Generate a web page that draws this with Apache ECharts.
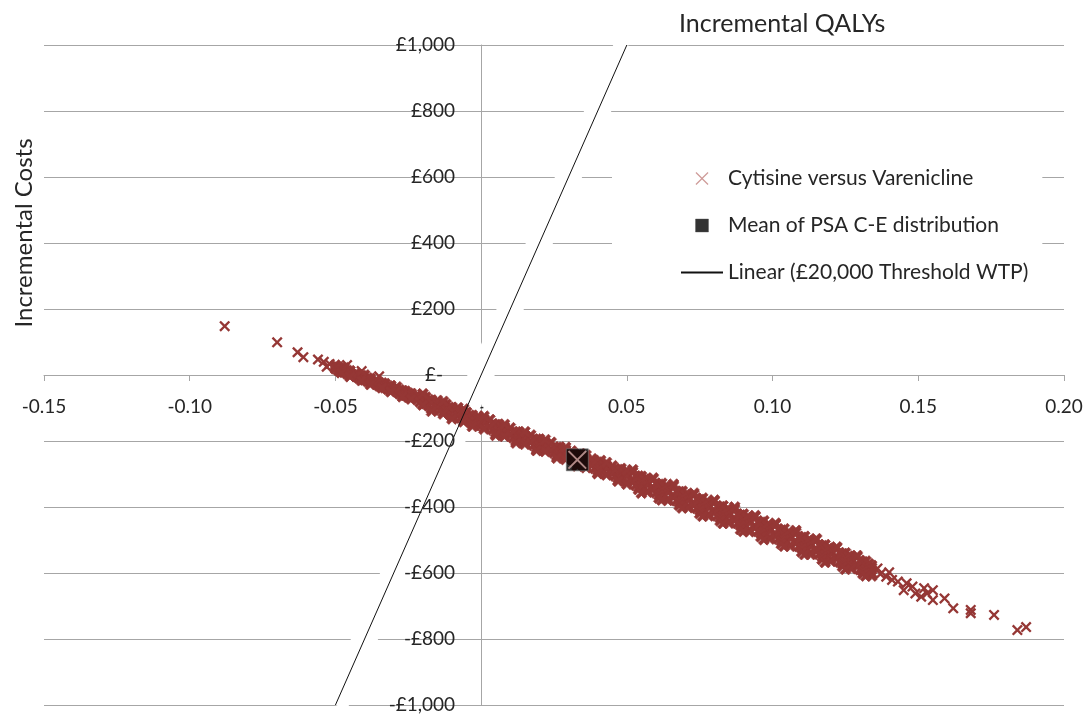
<!DOCTYPE html>
<html>
<head>
<meta charset="utf-8">
<script src="https://cdn.jsdelivr.net/npm/echarts@6/dist/echarts.min.js"></script>
<style>
html,body{margin:0;padding:0;background:#fff;}
#chart{width:1089px;height:717px;}
</style>
</head>
<body>
<div id="chart"></div>
<script>
// ---- Data (Incremental QALYs, Incremental Costs £) ----
const xTicks = { min: -0.15, max: 0.20, step: 0.05 };
const yTicks = { min: -1000, max: 1000, step: 200 };

const psaUpper = [[-0.050,30],[-0.047,22],[-0.043,6],[-0.040,0],[-0.036,-15],[-0.033,-26],[-0.029,-36],[-0.026,-49],[-0.022,-61],[-0.019,-67],[-0.015,-77],[-0.012,-89],[-0.008,-99],[-0.005,-113],[-0.001,-125],[0.003,-135],[0.006,-149],[0.010,-160],[0.013,-173],[0.017,-182],[0.020,-194],[0.024,-204],[0.027,-219],[0.031,-230],[0.034,-238],[0.038,-254],[0.041,-259],[0.045,-275],[0.048,-283],[0.052,-294],[0.055,-307],[0.059,-315],[0.062,-328],[0.066,-336],[0.069,-352],[0.073,-362],[0.076,-373],[0.080,-382],[0.083,-396],[0.087,-407],[0.090,-421],[0.094,-429],[0.097,-442],[0.101,-452],[0.104,-466],[0.108,-477],[0.111,-489],[0.115,-499],[0.118,-514],[0.122,-524],[0.125,-539],[0.129,-551],[0.132,-564]];
const psaUpper2 = [[-0.048,22],[-0.045,13],[-0.041,-2],[-0.038,-10],[-0.034,-24],[-0.031,-32],[-0.027,-47],[-0.024,-56],[-0.020,-67],[-0.017,-76],[-0.013,-91],[-0.010,-98],[-0.006,-113],[-0.003,-122],[0.001,-134],[0.005,-150],[0.008,-158],[0.012,-172],[0.015,-184],[0.019,-194],[0.022,-205],[0.026,-219],[0.029,-227],[0.033,-242],[0.036,-253],[0.040,-264],[0.043,-275],[0.047,-286],[0.050,-297],[0.054,-306],[0.057,-314],[0.061,-331],[0.064,-339],[0.068,-353],[0.071,-361],[0.075,-377],[0.078,-385],[0.082,-399],[0.085,-407],[0.089,-424],[0.092,-432],[0.096,-446],[0.099,-454],[0.103,-470],[0.106,-478],[0.110,-492],[0.113,-500],[0.117,-517],[0.120,-526],[0.124,-541],[0.127,-550],[0.131,-566],[0.134,-577]];
const psaMidUpper = [[-0.048,18],[-0.045,7],[-0.041,-4],[-0.038,-15],[-0.034,-29],[-0.031,-37],[-0.027,-51],[-0.024,-59],[-0.020,-74],[-0.017,-82],[-0.013,-96],[-0.010,-104],[-0.006,-120],[-0.003,-128],[0.001,-142],[0.005,-154],[0.008,-167],[0.012,-178],[0.015,-189],[0.019,-199],[0.022,-213],[0.026,-224],[0.029,-233],[0.033,-249],[0.036,-258],[0.040,-273],[0.043,-280],[0.047,-295],[0.050,-302],[0.054,-314],[0.057,-327],[0.061,-337],[0.064,-350],[0.068,-361],[0.071,-372],[0.075,-383],[0.078,-396],[0.082,-407],[0.085,-418],[0.089,-429],[0.092,-443],[0.096,-454],[0.099,-465],[0.103,-476],[0.106,-489],[0.110,-500],[0.113,-511],[0.117,-523],[0.120,-536],[0.124,-547],[0.127,-560],[0.131,-571],[0.134,-584]];
const psaCentre = [[-0.050,24],[-0.047,11],[-0.043,1],[-0.040,-12],[-0.036,-22],[-0.033,-35],[-0.029,-46],[-0.026,-59],[-0.022,-69],[-0.019,-82],[-0.015,-92],[-0.012,-105],[-0.008,-115],[-0.005,-128],[-0.001,-139],[0.003,-155],[0.006,-162],[0.010,-178],[0.013,-185],[0.017,-201],[0.020,-208],[0.024,-225],[0.027,-232],[0.031,-248],[0.034,-255],[0.038,-271],[0.041,-278],[0.045,-294],[0.048,-301],[0.052,-318],[0.055,-325],[0.059,-341],[0.062,-348],[0.066,-365],[0.069,-371],[0.073,-388],[0.076,-394],[0.080,-411],[0.083,-418],[0.087,-435],[0.090,-441],[0.094,-458],[0.097,-464],[0.101,-482],[0.104,-487],[0.108,-505],[0.111,-511],[0.115,-528],[0.118,-534],[0.122,-551],[0.125,-557],[0.129,-575],[0.132,-580]];
const psaCentreA = [[-0.049,24],[-0.046,4],[-0.042,1],[-0.039,-19],[-0.035,-23],[-0.032,-43],[-0.028,-45],[-0.025,-67],[-0.021,-66],[-0.018,-93],[-0.014,-88],[-0.011,-116],[-0.007,-112],[-0.004,-140],[0.000,-135],[0.004,-166],[0.007,-158],[0.011,-190],[0.014,-182],[0.018,-213],[0.021,-205],[0.025,-236],[0.028,-228],[0.032,-259],[0.035,-251],[0.039,-283],[0.042,-275],[0.046,-306],[0.049,-298],[0.053,-334],[0.056,-316],[0.060,-357],[0.063,-339],[0.067,-381],[0.070,-363],[0.074,-404],[0.077,-386],[0.081,-427],[0.084,-409],[0.088,-450],[0.091,-432],[0.095,-474],[0.098,-456],[0.102,-497],[0.105,-479],[0.109,-520],[0.112,-502],[0.116,-543],[0.119,-525],[0.123,-567],[0.126,-549],[0.130,-590],[0.133,-572]];
const psaCentreB = [[-0.049,14],[-0.046,14],[-0.042,-9],[-0.039,-9],[-0.035,-33],[-0.032,-33],[-0.028,-57],[-0.025,-55],[-0.021,-82],[-0.018,-75],[-0.014,-106],[-0.011,-98],[-0.007,-130],[-0.004,-122],[0.000,-153],[0.004,-148],[0.007,-176],[0.011,-172],[0.014,-200],[0.018,-195],[0.021,-223],[0.025,-218],[0.028,-246],[0.032,-241],[0.035,-269],[0.039,-265],[0.042,-293],[0.046,-288],[0.049,-316],[0.053,-306],[0.056,-344],[0.060,-329],[0.063,-367],[0.067,-353],[0.070,-391],[0.074,-376],[0.077,-414],[0.081,-399],[0.084,-437],[0.088,-422],[0.091,-460],[0.095,-446],[0.098,-484],[0.102,-469],[0.105,-507],[0.109,-492],[0.112,-530],[0.116,-515],[0.119,-553],[0.123,-539],[0.126,-577],[0.130,-562],[0.133,-600]];
const psaMidLower = [[-0.050,19],[-0.047,8],[-0.043,-3],[-0.040,-15],[-0.036,-27],[-0.033,-39],[-0.029,-50],[-0.026,-62],[-0.022,-74],[-0.019,-87],[-0.015,-99],[-0.012,-108],[-0.008,-123],[-0.005,-132],[-0.001,-148],[0.003,-158],[0.006,-170],[0.010,-182],[0.013,-194],[0.017,-204],[0.020,-216],[0.024,-229],[0.027,-242],[0.031,-252],[0.034,-263],[0.038,-274],[0.041,-287],[0.045,-298],[0.048,-311],[0.052,-324],[0.055,-336],[0.059,-348],[0.062,-360],[0.066,-370],[0.069,-382],[0.073,-395],[0.076,-406],[0.080,-417],[0.083,-429],[0.087,-441],[0.090,-454],[0.094,-463],[0.097,-475],[0.101,-488],[0.104,-499],[0.108,-510],[0.111,-522],[0.115,-534],[0.118,-546],[0.122,-556],[0.125,-568],[0.129,-579],[0.132,-590]];
const psaLower2 = [[-0.048,9],[-0.045,-2],[-0.041,-14],[-0.038,-24],[-0.034,-37],[-0.031,-47],[-0.027,-61],[-0.024,-70],[-0.020,-89],[-0.017,-100],[-0.013,-112],[-0.010,-124],[-0.006,-135],[-0.003,-146],[0.001,-159],[0.005,-174],[0.008,-182],[0.012,-197],[0.015,-206],[0.019,-220],[0.022,-228],[0.026,-243],[0.029,-252],[0.033,-265],[0.036,-277],[0.040,-289],[0.043,-300],[0.047,-312],[0.050,-324],[0.054,-340],[0.057,-351],[0.061,-364],[0.064,-376],[0.068,-386],[0.071,-398],[0.075,-410],[0.078,-422],[0.082,-433],[0.085,-444],[0.089,-456],[0.092,-469],[0.096,-480],[0.099,-491],[0.103,-503],[0.106,-515],[0.110,-525],[0.113,-537],[0.117,-550],[0.120,-558],[0.124,-572],[0.127,-580],[0.131,-594],[0.134,-601]];
const psaLower = [[-0.048,7],[-0.045,-5],[-0.041,-17],[-0.038,-29],[-0.034,-39],[-0.031,-51],[-0.027,-66],[-0.024,-73],[-0.020,-91],[-0.017,-103],[-0.013,-118],[-0.010,-125],[-0.006,-142],[-0.003,-149],[0.001,-164],[0.005,-180],[0.008,-186],[0.012,-202],[0.015,-210],[0.019,-227],[0.022,-232],[0.026,-248],[0.029,-256],[0.033,-273],[0.036,-281],[0.040,-297],[0.043,-303],[0.047,-319],[0.050,-331],[0.054,-347],[0.057,-355],[0.061,-373],[0.064,-380],[0.068,-395],[0.071,-402],[0.075,-420],[0.078,-427],[0.082,-442],[0.085,-449],[0.089,-468],[0.092,-475],[0.096,-490],[0.099,-497],[0.103,-512],[0.106,-519],[0.110,-536],[0.113,-544],[0.117,-559],[0.120,-565],[0.124,-580],[0.127,-587],[0.131,-602],[0.134,-609]];
const psaEdgeMid = [[-0.020,-57],[-0.017,-110],[-0.013,-80],[-0.010,-133],[-0.006,-103],[-0.003,-156],[0.001,-125],[0.005,-183],[0.008,-150],[0.012,-206],[0.015,-172],[0.019,-229],[0.022,-196],[0.026,-252],[0.029,-219],[0.033,-276],[0.036,-243],[0.040,-299],[0.043,-265],[0.047,-322],[0.050,-289]];
const psaEdgeRight = [[0.052,-287],[0.055,-358],[0.059,-312],[0.062,-379],[0.066,-331],[0.069,-403],[0.073,-358],[0.076,-428],[0.080,-379],[0.083,-450],[0.087,-400],[0.090,-474],[0.094,-426],[0.097,-499],[0.101,-449],[0.104,-519],[0.108,-471],[0.111,-544],[0.115,-496],[0.118,-568],[0.122,-521],[0.125,-589],[0.129,-547],[0.132,-609]];
const psaLeftTail = [[-0.088,148],[-0.070,99],[-0.063,69],[-0.061,54],[-0.056,47],[-0.054,40],[-0.053,25],[-0.052,33],[-0.046,30],[-0.041,12],[-0.035,-4]];
const psaRightTail = [[0.136,-586],[0.137,-603],[0.139,-611],[0.140,-598],[0.141,-621],[0.143,-626],[0.145,-652],[0.146,-631],[0.148,-641],[0.149,-662],[0.151,-672],[0.152,-646],[0.153,-662],[0.155,-652],[0.155,-682],[0.159,-677],[0.162,-707],[0.168,-712],[0.168,-722],[0.176,-727],[0.184,-773],[0.187,-764]];
const meanPoint = [[0.033,-257]];
const thresholdLine = [[-0.05,-1000],[0.05,1000]];   // £20,000 per QALY

const seriesNames = ['Cytisine versus Varenicline','Mean of PSA C-E distribution','Linear (£20,000 Threshold WTP)'];

// ---- Styling ----
const FONT = 'Lato';
const TXT = '#262626';
const GRID = '#a6a6a6';
const RED = '#953735';
const X_PATH = 'path://M0,1.5L1.5,0L5,3.5L8.5,0L10,1.5L6.5,5L10,8.5L8.5,10L5,6.5L1.5,10L0,8.5L3.5,5Z';
const X_BOLD = 'path://M0,2.1L2.1,0L5,2.9L7.9,0L10,2.1L7.1,5L10,7.9L7.9,10L5,7.1L2.1,10L0,7.9L2.9,5Z';
const X_THIN = 'path://M0,0.7L0.7,0L5,4.3L9.3,0L10,0.7L5.7,5L10,9.3L9.3,10L5,5.7L0.7,10L0,9.3L4.3,5Z';
const SQUARE = 'path://M0,0L10,0L10,10L0,10Z';

const psaBand = [].concat(psaUpper, psaUpper2, psaMidUpper, psaCentreA, psaCentre, psaCentreB, psaMidLower, psaLower2, psaLower, psaEdgeMid, psaEdgeRight);
const psaTails = [].concat(psaLeftTail, psaRightTail);

function fmtQ(v){ if (Math.abs(v) < 1e-9) return '-'; return v.toFixed(2); }
function fmtC(v){
  if (Math.abs(v) < 1e-9) return '{z|£-}';
  const s = Math.abs(Math.round(v)).toLocaleString('en-GB');
  return (v < 0 ? '-£' : '£') + s;
}

const chart = echarts.init(document.getElementById('chart'), null, {renderer:'canvas'});
const option = {
  animation: false,
  backgroundColor: '#fff',
  title: {
    text: 'Incremental QALYs', left: 679, top: 11, padding: 0,
    textStyle: { fontFamily: FONT, fontSize: 25, fontWeight: 'normal', color: TXT }
  },
  graphic: [{
    type: 'text', x: 24, y: 233, rotation: Math.PI / 2,
    style: { text: 'Incremental Costs', fontFamily: FONT, fontSize: 24, fill: TXT, textAlign: 'center', textVerticalAlign: 'middle' }
  }],
  grid: { left: 44, right: 25, top: 45, bottom: 12, containLabel: false, outerBoundsMode: 'none' },
  legend: {
    orient: 'vertical', left: 612, top: 150,
    padding: [18, 14, 15, 68],
    backgroundColor: '#fff', z: 10,
    itemWidth: 42, itemHeight: 13, itemGap: 26,
    textStyle: { fontFamily: FONT, fontSize: 21, color: TXT, lineHeight: 20 },
    data: [
      { name: seriesNames[0], icon: X_THIN, itemStyle: { color: '#cf9c9a', borderColor: '#cf9c9a', borderWidth: 0 } },
      { name: seriesNames[1], icon: SQUARE, itemStyle: { color: '#000', borderColor: '#555', borderWidth: 0.5 } },
      { name: seriesNames[2], itemStyle: { opacity: 0 } }
    ]
  },
  xAxis: [{
    type: 'value', min: xTicks.min, max: xTicks.max, interval: xTicks.step, position: 'bottom',
    axisLine: { onZero: false, lineStyle: { color: GRID, width: 1 } },
    axisTick: { show: true, length: 6, lineStyle: { color: GRID } },
    axisLabel: { formatter: fmtQ, margin: 22, fontFamily: FONT, fontSize: 19, color: TXT },
    splitLine: { show: false }
  }],
  yAxis: [{
    type: 'value', min: yTicks.min, max: yTicks.max, interval: yTicks.step, position: 'left',
    axisLine: { show: true, onZero: false, lineStyle: { color: GRID, width: 1 } },
    axisTick: { show: false },
    axisLabel: { show: false },
    splitLine: { show: true, lineStyle: { color: GRID, width: 1 } }
  }, {
    type: 'value', min: yTicks.min, max: yTicks.max, interval: yTicks.step, position: 'left', z: 10,
    axisLine: { show: false, onZero: false },
    axisTick: { show: false },
    splitLine: { show: false },
    axisLabel: {
      formatter: fmtC, margin: 26, fontFamily: FONT, fontSize: 19, color: TXT,
      rich: { z: { fontFamily: FONT, fontSize: 19, color: TXT, padding: [0, 12, 0, 0] } }
    }
  }],
  series: [
    { name: '_halo', type: 'line', data: thresholdLine, symbol: 'none', silent: true, z: 2,
      lineStyle: { color: '#fff', width: 25 }, clip: false },
    { name: seriesNames[0], type: 'scatter', data: psaBand, symbol: X_BOLD, symbolSize: 11, z: 3,
      itemStyle: { color: RED, opacity: 1, borderColor: RED, borderWidth: 0.7 } },
    { name: seriesNames[0], type: 'scatter', data: psaTails, symbol: X_PATH, symbolSize: 11, z: 3,
      itemStyle: { color: RED, opacity: 1 } },
    { name: seriesNames[2], type: 'line', data: thresholdLine, symbol: 'none', z: 4,
      itemStyle: { color: '#111' }, lineStyle: { color: '#111', width: 1 } },
    { name: seriesNames[1], type: 'scatter', data: meanPoint, symbol: 'rect', symbolSize: 22, z: 5,
      itemStyle: { color: '#000', borderColor: '#777', borderWidth: 0.8 } },
    { name: '_meanCross', type: 'scatter', data: meanPoint, symbol: X_THIN, symbolSize: 19, z: 6,
      itemStyle: { color: '#d4a8a4' } }
  ]
};
chart.setOption(option);

// place the axes through the origin (QALY 0 / cost 0), using the chart's own scales
const zeroX = chart.convertToPixel({ xAxisIndex: 0 }, 0);
const leftX = chart.convertToPixel({ xAxisIndex: 0 }, xTicks.min);
const zeroY = chart.convertToPixel({ yAxisIndex: 0 }, 0);
const bottomY = chart.convertToPixel({ yAxisIndex: 0 }, yTicks.min);
chart.setOption({
  xAxis: [{ offset: zeroY - bottomY }],
  yAxis: [{ offset: leftX - zeroX }, { offset: leftX - zeroX }]
});
</script>
</body>
</html>
